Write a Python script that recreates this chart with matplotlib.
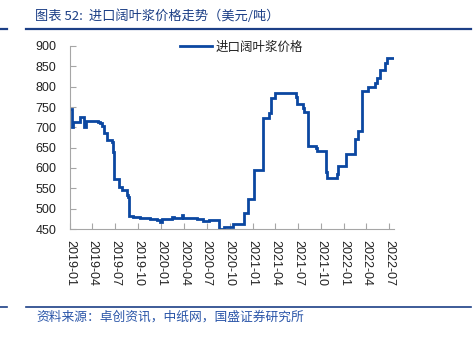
import matplotlib
matplotlib.use("Agg")
import matplotlib.pyplot as plt
import matplotlib.dates as mdates
from matplotlib.lines import Line2D
import pandas as pd

# change points of the weekly price series (USD/t)
DATES = [
    "2019-01-01", "2019-01-08", "2019-01-15", "2019-02-12", "2019-02-26",
    "2019-03-05", "2019-04-23", "2019-05-01", "2019-05-09", "2019-05-17",
    "2019-05-29", "2019-06-18", "2019-06-22", "2019-06-26", "2019-07-16",
    "2019-07-28", "2019-08-17", "2019-08-21", "2019-08-27", "2019-09-10",
    "2019-10-08", "2019-11-17", "2019-12-15", "2019-12-27", "2020-01-04",
    "2020-02-13", "2020-02-21", "2020-03-24", "2020-03-28", "2020-05-23",
    "2020-06-16", "2020-07-10", "2020-08-19", "2020-09-08", "2020-10-14",
    "2020-11-27", "2020-12-13", "2021-01-06", "2021-02-13", "2021-03-07",
    "2021-03-15", "2021-04-02", "2021-06-23", "2021-06-27", "2021-07-21",
    "2021-07-25", "2021-08-10", "2021-09-11", "2021-09-15", "2021-10-20",
    "2021-10-26", "2021-12-04", "2021-12-10", "2022-01-09", "2022-02-14",
    "2022-02-26", "2022-03-14", "2022-04-09", "2022-05-05", "2022-05-15",
    "2022-05-25", "2022-06-14", "2022-06-22", "2022-07-24",
]
PRICES = [
    745, 702, 713, 725, 700,
    715, 712, 710, 703, 686,
    669, 664, 640, 573, 553,
    546, 534, 529, 482, 480,
    477, 475, 472, 467, 475,
    480, 477, 484, 477, 474,
    470, 472, 450, 454, 462,
    489, 524, 595, 723, 736,
    771, 785, 775, 757, 748,
    737, 655, 649, 642, 590,
    575, 586, 606, 634, 672,
    690, 790, 799, 809, 822,
    841, 858, 870, 870,
]
XTICKS = pd.date_range("2019-01-01", "2022-07-01", freq="3MS")
YTICKS = list(range(450, 901, 50))

NAVY = "#1c3f86"
LINE = "#0b47a1"
CJK = ["Noto Sans CJK SC", "DejaVu Sans"]

fig = plt.figure(figsize=(4.76, 3.39), dpi=100)
ax = fig.add_axes([70 / 476, 1 - 229 / 339, 324.3 / 476, 183 / 339])

x = pd.to_datetime(DATES)
ax.plot(x, PRICES, drawstyle="steps-post", color=LINE, lw=2.0,
        solid_joinstyle="miter", label="进口阔叶浆价格")

ax.set_xlim(pd.Timestamp("2019-01-01"), pd.Timestamp("2022-07-22"))
ax.set_ylim(450, 900)
ax.set_yticks(YTICKS)
ax.set_xticks(XTICKS)
ax.xaxis.set_major_formatter(mdates.DateFormatter("%Y-%m"))
for lab in ax.get_xticklabels():
    lab.set_rotation(270)
    lab.set_ha("center")
    lab.set_va("top")
ax.tick_params(direction="in", length=4, width=0.8, color="#a6a6a6",
               labelsize=9, labelcolor="#222222")
ax.tick_params(axis="y", pad=10)
ax.tick_params(axis="x", pad=8)
for lab in ax.get_xticklabels() + ax.get_yticklabels():
    lab.set_family("Liberation Sans")
ax.spines[["top", "right"]].set_visible(False)
for s in ("left", "bottom"):
    ax.spines[s].set_color("#a6a6a6")
    ax.spines[s].set_linewidth(0.8)

leg = ax.legend(loc="upper left", bbox_to_anchor=(0.339, 1.03), frameon=False,
                handlelength=2.56, handletextpad=0.32, borderaxespad=0,
                borderpad=0, prop={"family": CJK, "size": 9})
for t in leg.get_texts():
    t.set_color("#222222")

# title, rules and source note
fig.text(35 / 476, 1 - 16 / 339, "图表 52:  进口阔叶浆价格走势（美元/吨）",
         family=CJK, fontsize=9.5, color=NAVY, ha="left", va="center")
fig.text(36 / 476, 1 - 317 / 339, "资料来源：卓创资讯，中纸网，国盛证券研究所",
         family=CJK, fontsize=9.2, color="#2a55a8", ha="left", va="center")
for yy, lw in ((29, 1.6), (306.5, 1.2)):
    y = 1 - yy / 339
    fig.add_artist(Line2D([0, 7 / 476], [y, y], color=NAVY, lw=lw))
    fig.add_artist(Line2D([26 / 476, 471 / 476], [y, y], color=NAVY, lw=lw))

fig.savefig("out.png", dpi=100)
